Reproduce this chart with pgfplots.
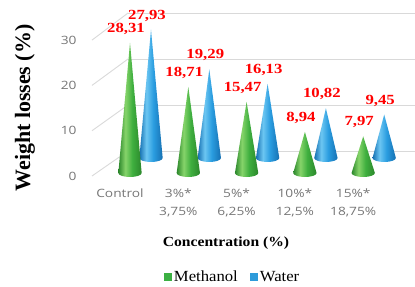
\documentclass[border=0pt]{standalone}
\usepackage{pgfplots}
\pgfplotsset{compat=1.18}
\usepackage{pgfplotstable}
\usepackage{fontspec}
\setmainfont{Liberation Serif}
\newfontfamily\tickfont[FakeStretch=1.2]{Open Sans}
\newfontfamily\labfont[FakeStretch=1.2]{Liberation Serif}
\newfontfamily\titlefont[FakeStretch=1.12]{Liberation Serif}
\newfontfamily\legfont[FakeStretch=1.08]{Liberation Serif}

\definecolor{gdark}{HTML}{2B872B}
\definecolor{glight}{HTML}{86D46A}
\definecolor{gmid}{HTML}{3FAF3F}
\definecolor{bdark}{HTML}{1670B2}
\definecolor{blight}{HTML}{6CC6F2}
\definecolor{bmid}{HTML}{2A9DE0}
\definecolor{legG}{HTML}{3CB043}
\definecolor{legB}{HTML}{2E9BDA}
\definecolor{gridc}{HTML}{D9D9D9}
\definecolor{tickc}{HTML}{767676}

\pgfdeclarehorizontalshading{coneG}{100bp}{color(0bp)=(gdark); color(25bp)=(gdark); color(40bp)=(glight); color(55bp)=(gmid); color(75bp)=(gdark); color(100bp)=(gdark)}
\pgfdeclarehorizontalshading{coneB}{100bp}{color(0bp)=(bdark); color(25bp)=(bdark); color(40bp)=(blight); color(55bp)=(bmid); color(75bp)=(bdark); color(100bp)=(bdark)}

\pgfplotstableread{
x y
0 28.31
1 18.71
2 15.47
3 8.94
4 7.97
}\methanol
\pgfplotstableread{
x y
0 27.93
1 19.29
2 16.13
3 10.82
4 9.45
}\water

\pgfplotsset{
  base/.style={anchor=south west, enlargelimits=false, axis line style={draw=none},
    tick style={draw=none}, major tick length=0pt, clip=false, no markers,
    /pgf/number format/assume math mode=true},
  conerow/.style={base, x=58.3bp, y=4.6bp, xmin=-1, xmax=5, ymin=0, ymax=35, ytick=\empty},
  greencone/.style={draw=none, shade, shading=coneG, forget plot},
  bluecone/.style={draw=none, shade, shading=coneB, forget plot},
  vallabels/.style={draw=none, forget plot, point meta=y,
    nodes near coords={\pgfmathprintnumber[fixed,fixed zerofill,precision=2,use comma]{\pgfplotspointmeta}},
    every node near coord/.append style={font=\labfont\bfseries\fontsize{14}{16}\selectfont,
      text=red, anchor=center, inner sep=0pt, xshift=-4bp, yshift=14bp}},
}

\begin{document}
\begin{tikzpicture}
\useasboundingbox (0,0) rectangle (415bp,287bp);

% back wall gridlines
\begin{axis}[base, at={(128bp,136bp)}, x=287bp, xmin=0, xmax=1, y=4.6bp, ymin=0, ymax=30,
  xtick=\empty, ytick={0,10,20,30}, yticklabels={}, ymajorgrids,
  grid style={gridc, line width=0.9bp}]
\end{axis}
\foreach \k in {0,1,2,3}
  \draw[gridc, line width=0.9bp] (92bp,{111bp+45.3bp*\k}) -- (128bp,{136bp+46bp*\k});

% y tick labels (front)
\begin{axis}[base, at={(80bp,111bp)}, x=1bp, xmin=0, xmax=1, y=4.53bp, ymin=0, ymax=30,
  xtick=\empty, ytick={0,10,20,30}, yticklabels={0,10,20,30},
  yticklabel style={font=\tickfont\fontsize{11.5}{13}\selectfont, text=tickc}]
\end{axis}

% Water (back row)
\begin{axis}[conerow, at={(92.7bp,129bp)}, xtick=\empty]
\addplot[bluecone] coordinates {(0,27.93) (0.2,0)} arc[start angle=0,end angle=-180,x radius=11.66bp,y radius=4bp] -- cycle;
\addplot[bluecone] coordinates {(1,19.29) (1.2,0)} arc[start angle=0,end angle=-180,x radius=11.66bp,y radius=4bp] -- cycle;
\addplot[bluecone] coordinates {(2,16.13) (2.2,0)} arc[start angle=0,end angle=-180,x radius=11.66bp,y radius=4bp] -- cycle;
\addplot[bluecone] coordinates {(3,10.82) (3.2,0)} arc[start angle=0,end angle=-180,x radius=11.66bp,y radius=4bp] -- cycle;
\addplot[bluecone] coordinates {(4,9.45) (4.2,0)} arc[start angle=0,end angle=-180,x radius=11.66bp,y radius=4bp] -- cycle;
\addplot[vallabels] table[x=x,y=y]{\water};
\end{axis}

% Methanol (front row)
\begin{axis}[conerow, at={(71.7bp,114bp)},
  xtick={0,1,2,3,4},
  xticklabels={Control,{3\%*\\3,75\%},{5\%*\\6,25\%},{10\%*\\12,5\%},{15\%*\\18,75\%}},
  xticklabel style={font=\tickfont\fontsize{11.5}{18}\selectfont, text=tickc, align=center,
    xshift=-10bp, yshift=-12bp},
  legend style={at={(axis cs:1.76,-22.6)}, anchor=center, draw=none, fill=none,
    legend columns=-1, font=\legfont\fontsize{15.5}{18}\selectfont,
    /tikz/every even column/.append style={column sep=11bp},
    nodes={inner sep=1.5bp}},
  legend image code/.code={\fill[#1] (0bp,-4bp) rectangle (8bp,4bp);}]
\addplot[greencone] coordinates {(0,28.31) (0.2,0)} arc[start angle=0,end angle=-180,x radius=11.66bp,y radius=4bp] -- cycle;
\addplot[greencone] coordinates {(1,18.71) (1.2,0)} arc[start angle=0,end angle=-180,x radius=11.66bp,y radius=4bp] -- cycle;
\addplot[greencone] coordinates {(2,15.47) (2.2,0)} arc[start angle=0,end angle=-180,x radius=11.66bp,y radius=4bp] -- cycle;
\addplot[greencone] coordinates {(3,8.94) (3.2,0)} arc[start angle=0,end angle=-180,x radius=11.66bp,y radius=4bp] -- cycle;
\addplot[greencone] coordinates {(4,7.97) (4.2,0)} arc[start angle=0,end angle=-180,x radius=11.66bp,y radius=4bp] -- cycle;
\addplot[vallabels] table[x=x,y=y]{\methanol};
\addlegendimage{fill=legG, draw=none}
\addlegendentry{Methanol}
\addlegendimage{fill=legB, draw=none}
\addlegendentry{Water}
\end{axis}

\node[font=\titlefont\bfseries\fontsize{14}{16}\selectfont] at (226bp,44bp) {Concentration (\%)};
\node[font=\bfseries\fontsize{22}{24}\selectfont, rotate=90] at (25bp,179bp) {Weight losses (\%)};
\end{tikzpicture}
\end{document}
